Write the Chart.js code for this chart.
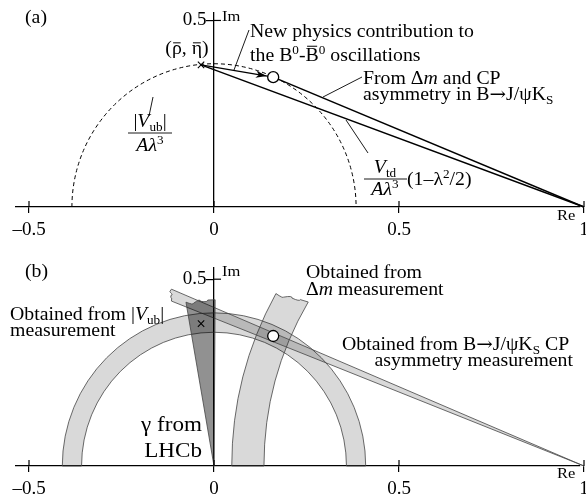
<!DOCTYPE html>
<html>
<head>
<meta charset="utf-8">
<script src="https://cdn.jsdelivr.net/npm/chart.js@4.4.1/dist/chart.umd.min.js"></script>
<style>
  html, body { margin: 0; padding: 0; background: #fff; overflow: hidden; }
  #wrap { position: relative; width: 586px; height: 500px; }
  .panel { position: absolute; left: 0; width: 586px; height: 250px; }
  #panelA { top: 0; }
  #panelB { top: 250px; }
</style>
</head>
<body>
<div id="wrap">
  <div class="panel" id="panelA"><canvas id="chartA" width="586" height="250"></canvas></div>
  <div class="panel" id="panelB"><canvas id="chartB" width="586" height="250"></canvas></div>
</div>
<script>
// axis ticks (both panels)
const xTicks = [-0.5, 0, 0.5, 1];
const yTicks = [0.5];

// unitarity triangle, panel (a)
const apex = [-0.035, 0.381];          // (rho-bar, eta-bar)
const newPhysics = [0.16, 0.348];      // apex shifted by new physics
const corner = [1, 0];
const vubRadius = 0.384;

// measured regions, panel (b)
const vubBand = [0.358, 0.41];          // inner / outer radius about (0,0)
const dmBand = [0.865, 0.952];          // inner / outer radius about (1,0)
const dmBandEnd = [149.5, 151];         // end angle (deg) of inner / outer edge
const cpBandAngles = [21.6, 23.0];      // lower / upper edge angle seen from (1,0)
const cpBandEndX = -0.115;
const gammaAngles = [89.6, 99.8];       // wedge edges about (0,0)
const gammaLength = 0.445;

// where x = 0 sits and how many pixels one unit takes
const ZERO_PX = 214;
const UNIT_PX = 370;

const SERIF = '"Liberation Serif", "Times New Roman", serif';
const SX = 1.1;   // the original lettering is a little wider than Times
const font = (size, it, fam) => (it ? 'italic ' : '') + size + 'px ' + (fam || SERIF);
const pt = p => ({ x: p[0], y: p[1] });
const rad = d => d * Math.PI / 180;

// text made of pieces: {t, it, sub, sup, bar, fam}
function rich(ctx, x, y, parts, size, align) {
  const pieces = parts.map(p => {
    const s = (p.sub || p.sup) ? Math.round(size * 0.68) : size;
    const f = font(s, p.it, p.fam);
    ctx.font = f;
    return Object.assign({}, p, { f, s, w: ctx.measureText(p.t).width * SX,
      dy: p.sub ? size * 0.22 : p.sup ? -size * 0.38 : 0 });
  });
  const total = pieces.reduce((a, p) => a + p.w, 0);
  let cx = align === 'center' ? x - total / 2 : align === 'right' ? x - total : x;
  ctx.fillStyle = '#000';
  ctx.textAlign = 'left';
  ctx.textBaseline = 'alphabetic';
  pieces.forEach(p => {
    ctx.save();
    ctx.font = p.f;
    ctx.translate(cx, y + p.dy);
    ctx.scale(SX, 1);
    ctx.fillText(p.t, 0, 0);
    ctx.restore();
    if (p.bar) {
      const top = y + p.dy - p.s * p.bar;
      ctx.beginPath();
      ctx.lineWidth = 1;
      ctx.strokeStyle = '#000';
      ctx.moveTo(cx + p.w * 0.12, top);
      ctx.lineTo(cx + p.w * 0.88, top);
      ctx.stroke();
    }
    cx += p.w;
  });
  return total;
}

function line(ctx, a, b, w) {
  ctx.beginPath();
  ctx.lineWidth = w || 0.9;
  ctx.strokeStyle = '#000';
  ctx.moveTo(a[0], a[1]);
  ctx.lineTo(b[0], b[1]);
  ctx.stroke();
}

// ragged "torn" edge between two pixel points
function torn(ctx, p0, p1, amp) {
  const dx = p1[0] - p0[0], dy = p1[1] - p0[1];
  const len = Math.hypot(dx, dy) || 1;
  const nx = -dy / len, ny = dx / len;
  const offs = [amp, -amp * 0.8, amp * 0.6];
  let prev = p0;
  offs.forEach((o, i) => {
    const t = (i + 1) / 4;
    const q = [p0[0] + dx * t + nx * o, p0[1] + dy * t + ny * o];
    ctx.quadraticCurveTo(q[0], q[1], (prev[0] + q[0]) / 2 + dx / 8, (prev[1] + q[1]) / 2 + dy / 8);
    prev = q;
  });
  ctx.lineTo(p1[0], p1[1]);
}

function crossTicks(chart) {
  const { ctx, scales: { x, y } } = chart;
  const x0 = x.getPixelForValue(0), yb = y.getPixelForValue(0);
  ctx.save();
  xTicks.forEach(v => line(ctx, [x.getPixelForValue(v), yb - 6], [x.getPixelForValue(v), yb], 1.2));
  yTicks.forEach(v => line(ctx, [x0, y.getPixelForValue(v)], [x0 + 7, y.getPixelForValue(v)], 1.2));
  ctx.restore();
}

function axisOptions(yMax) {
  const family = SERIF;
  return {
    x: {
      type: 'linear', min: -0.54, max: 1.01, position: 'bottom',
      afterBuildTicks: s => { s.ticks = xTicks.map(v => ({ value: v })); },
      afterFit: s => { s.height = 30; s.paddingLeft = 0; s.paddingRight = 0; },
      ticks: { font: { family, size: 19 }, color: '#000', padding: 6, maxRotation: 0, autoSkip: false,
        callback: v => v < 0 ? '\u2013' + Math.abs(v) : String(v) },
      grid: { display: true, drawOnChartArea: false, drawTicks: true, tickLength: 6, color: '#000', lineWidth: 1.2 },
      border: { display: true, color: '#000', width: 1.3 }
    },
    y: {
      type: 'linear', min: 0, max: yMax, position: { x: 0 },
      afterBuildTicks: s => { s.ticks = yTicks.map(v => ({ value: v })); },
      afterFit: s => { s.paddingTop = 0; s.paddingBottom = 0; },
      ticks: { font: { family, size: 19 }, color: '#000', padding: 0, autoSkip: false,
        callback: v => String(v) + '\u2009\u2009' },
      grid: { display: true, drawOnChartArea: false, drawTicks: true, tickLength: 7, color: '#000', lineWidth: 1.2 },
      border: { display: true, color: '#000', width: 1.3 }
    }
  };
}

function makeChart(id, datasets, yMax, padding, plugin) {
  const chart = new Chart(document.getElementById(id), {
    type: 'scatter',
    data: { datasets },
    options: {
      responsive: false,
      animation: false,
      devicePixelRatio: 1,
      layout: { padding },
      plugins: { legend: { display: false }, tooltip: { enabled: false } },
      scales: axisOptions(yMax)
    },
    plugins: [plugin]
  });
  // pin x = 0 and x = 1 to the same pixels as the original figure
  const a = chart.chartArea;
  chart.options.scales.x.min = (a.left - ZERO_PX) / UNIT_PX;
  chart.options.scales.x.max = (a.right - ZERO_PX) / UNIT_PX;
  chart.update();
  return chart;
}

const pointSets = () => [
  { data: [pt(apex)], pointStyle: 'crossRot', pointRadius: 4.5, borderColor: '#000', borderWidth: 1.1, clip: false },
  { data: [pt(newPhysics)], pointStyle: 'circle', pointRadius: 5.5, backgroundColor: '#fff', borderColor: '#000', borderWidth: 1.3, clip: false }
];

const ARROW = { t: '\u2192', fam: '"DejaVu Serif", serif' };

// ---------- panel (a) ----------
const labelsA = [
  { x: 25, y: 23, size: 18, parts: [{ t: '(a)' }] },
  { x: 222, y: 21, size: 15, parts: [{ t: 'Im' }] },
  { x: 187, y: 54, size: 18, align: 'center', parts: [{ t: '(' }, { t: '\u03C1', bar: 0.62 }, { t: ', ' }, { t: '\u03B7', bar: 0.62 }, { t: ')' }] },
  { x: 250, y: 37, size: 18, parts: [{ t: 'New physics contribution to' }] },
  { x: 250, y: 61, size: 18, parts: [{ t: 'the B' }, { t: '0', sup: 1 }, { t: '-' }, { t: 'B', bar: 0.82 }, { t: '0', sup: 1 }, { t: ' oscillations' }] },
  { x: 363, y: 84, size: 18, parts: [{ t: 'From \u0394' }, { t: 'm', it: 1 }, { t: ' and CP' }] },
  { x: 363, y: 100, size: 18, parts: [{ t: 'asymmetry in B' }, ARROW, { t: 'J/\u03C8K' }, { t: 'S', sub: 1 }] },
  { x: 150, y: 127, size: 18, align: 'center', parts: [{ t: '|' }, { t: 'V', it: 1 }, { t: 'ub', sub: 1 }, { t: '|' }] },
  { x: 150, y: 151, size: 18, align: 'center', parts: [{ t: 'A\u03BB', it: 1 }, { t: '3', sup: 1 }] },
  { x: 385, y: 173, size: 18, align: 'center', parts: [{ t: 'V', it: 1 }, { t: 'td', sub: 1 }] },
  { x: 385, y: 195, size: 18, align: 'center', parts: [{ t: 'A\u03BB', it: 1 }, { t: '3', sup: 1 }] },
  { x: 407, y: 185, size: 18, parts: [{ t: '(1\u2013\u03BB' }, { t: '2', sup: 1 }, { t: '/2)' }] },
  { x: 557, y: 220, size: 15, parts: [{ t: 'Re' }] }
];
const leadersA = [
  [[249, 30], [234, 70]],
  [[362, 77], [323, 97]],
  [[153, 97], [149, 116]],
  [[346, 120], [368, 153]],
  [[128, 133], [172, 133]],
  [[364, 179], [407, 179]]
];

const pluginA = {
  id: 'panelA',
  beforeDatasetsDraw(chart) {
    const { ctx, scales: { x, y } } = chart;
    const cx = x.getPixelForValue(0), cy = y.getPixelForValue(0);
    ctx.save();
    ctx.setLineDash([4, 3]);
    ctx.lineWidth = 1;
    ctx.strokeStyle = '#000';
    ctx.beginPath();
    ctx.ellipse(cx, cy, x.getPixelForValue(vubRadius) - cx, cy - y.getPixelForValue(vubRadius), 0, Math.PI, 2 * Math.PI);
    ctx.stroke();
    ctx.restore();
  },
  afterDatasetsDraw(chart) {
    const { ctx, scales: { x, y } } = chart;
    const a = [x.getPixelForValue(apex[0]), y.getPixelForValue(apex[1])];
    const b = [x.getPixelForValue(newPhysics[0]), y.getPixelForValue(newPhysics[1])];
    const d = Math.hypot(b[0] - a[0], b[1] - a[1]);
    const ux = (b[0] - a[0]) / d, uy = (b[1] - a[1]) / d;
    const tip = [b[0] - ux * 6.5, b[1] - uy * 6.5];
    ctx.save();
    ctx.fillStyle = '#000';
    ctx.beginPath();
    ctx.moveTo(tip[0], tip[1]);
    ctx.lineTo(tip[0] - ux * 11 - uy * 3.5, tip[1] - uy * 11 + ux * 3.5);
    ctx.lineTo(tip[0] - ux * 8, tip[1] - uy * 8);
    ctx.lineTo(tip[0] - ux * 11 + uy * 3.5, tip[1] - uy * 11 - ux * 3.5);
    ctx.closePath();
    ctx.fill();
    ctx.restore();
  },
  afterDraw(chart) {
    const ctx = chart.ctx;
    crossTicks(chart);
    ctx.save();
    leadersA.forEach(l => line(ctx, l[0], l[1], 0.9));
    labelsA.forEach(l => rich(ctx, l.x, l.y, l.parts, l.size, l.align));
    ctx.restore();
  }
};

makeChart('chartA', pointSets().concat([
  { data: [pt(apex), pt(newPhysics)], showLine: true, pointRadius: 0, borderColor: '#000', borderWidth: 1.3, clip: false },
  { data: [pt(apex), pt(corner)], showLine: true, pointRadius: 0, borderColor: '#000', borderWidth: 1.5, clip: false },
  { data: [pt(newPhysics), pt(corner)], showLine: true, pointRadius: 0, borderColor: '#000', borderWidth: 1.5, clip: false }
]), 0.52, { top: 13, left: 16, right: 0, bottom: 13 }, pluginA);

// ---------- panel (b) ----------
const labelsB = [
  { x: 25, y: 27, size: 18, parts: [{ t: '(b)' }] },
  { x: 222, y: 26, size: 15, parts: [{ t: 'Im' }] },
  { x: 10, y: 70, size: 18, parts: [{ t: 'Obtained from |' }, { t: 'V', it: 1 }, { t: 'ub', sub: 1 }, { t: '|' }] },
  { x: 10, y: 86, size: 18, parts: [{ t: 'measurement' }] },
  { x: 306, y: 28, size: 18, parts: [{ t: 'Obtained from' }] },
  { x: 306, y: 45, size: 18, parts: [{ t: '\u0394' }, { t: 'm', it: 1 }, { t: ' measurement' }] },
  { x: 342, y: 100, size: 18, parts: [{ t: 'Obtained from B' }, ARROW, { t: 'J/\u03C8K' }, { t: 'S', sub: 1 }, { t: ' CP' }] },
  { x: 573, y: 116, size: 18, align: 'right', parts: [{ t: 'asymmetry measurement' }] },
  { x: 202, y: 181, size: 21, align: 'right', parts: [{ t: '\u03B3 from' }] },
  { x: 202, y: 207, size: 21, align: 'right', parts: [{ t: 'LHCb' }] },
  { x: 557, y: 228, size: 15, parts: [{ t: 'Re' }] }
];

const pluginB = {
  id: 'panelB',
  beforeDatasetsDraw(chart) {
    const { ctx, scales: { x, y } } = chart;
    const P = (vx, vy) => [x.getPixelForValue(vx), y.getPixelForValue(vy)];
    const kx = x.getPixelForValue(1) - x.getPixelForValue(0);
    const ky = y.getPixelForValue(0) - y.getPixelForValue(1);
    const o = P(0, 0), c = P(1, 0);
    const band = (draw, alpha) => {
      ctx.beginPath();
      draw();
      ctx.closePath();
      ctx.fillStyle = 'rgba(0,0,0,' + alpha + ')';
      ctx.fill();
      ctx.lineWidth = 0.8;
      ctx.strokeStyle = '#444';
      ctx.stroke();
    };
    ctx.save();
    // |Vub| ring about the origin
    band(() => {
      ctx.ellipse(o[0], o[1], vubBand[1] * kx, vubBand[1] * ky, 0, Math.PI, 2 * Math.PI);
      ctx.ellipse(o[0], o[1], vubBand[0] * kx, vubBand[0] * ky, 0, 2 * Math.PI, Math.PI, true);
    }, 0.15);
    // delta-m ring about (1,0)
    band(() => {
      const aO = rad(dmBandEnd[1]), aI = rad(dmBandEnd[0]);
      const pO = P(1 + dmBand[1] * Math.cos(aO), dmBand[1] * Math.sin(aO));
      const pI = P(1 + dmBand[0] * Math.cos(aI), dmBand[0] * Math.sin(aI));
      ctx.ellipse(c[0], c[1], dmBand[1] * kx, dmBand[1] * ky, 0, Math.PI, 2 * Math.PI - aO);
      torn(ctx, pO, pI, 3);
      ctx.ellipse(c[0], c[1], dmBand[0] * kx, dmBand[0] * ky, 0, 2 * Math.PI - aI, Math.PI, true);
    }, 0.15);
    // CP asymmetry wedge from (1,0)
    band(() => {
      const len = 1 - cpBandEndX;
      const up = P(cpBandEndX, len * Math.tan(rad(cpBandAngles[1])));
      const lo = P(cpBandEndX, len * Math.tan(rad(cpBandAngles[0])));
      ctx.moveTo(c[0], c[1]);
      ctx.lineTo(up[0], up[1]);
      torn(ctx, up, lo, 2.5);
    }, 0.15);
    // gamma wedge from the origin
    band(() => {
      const r = P(gammaLength * Math.cos(rad(gammaAngles[0])), gammaLength * Math.sin(rad(gammaAngles[0])));
      const l = P(gammaLength * Math.cos(rad(gammaAngles[1])), gammaLength * Math.sin(rad(gammaAngles[1])));
      ctx.moveTo(o[0], o[1]);
      ctx.lineTo(l[0], l[1]);
      torn(ctx, l, r, 3.5);
    }, 0.43);
    ctx.restore();
  },
  afterDraw(chart) {
    const ctx = chart.ctx;
    crossTicks(chart);
    ctx.save();
    labelsB.forEach(l => rich(ctx, l.x, l.y, l.parts, l.size, l.align));
    ctx.restore();
  }
};

makeChart('chartB', pointSets(), 0.53, { top: 18, left: 16, right: 0, bottom: 4 }, pluginB);
</script>
</body>
</html>
